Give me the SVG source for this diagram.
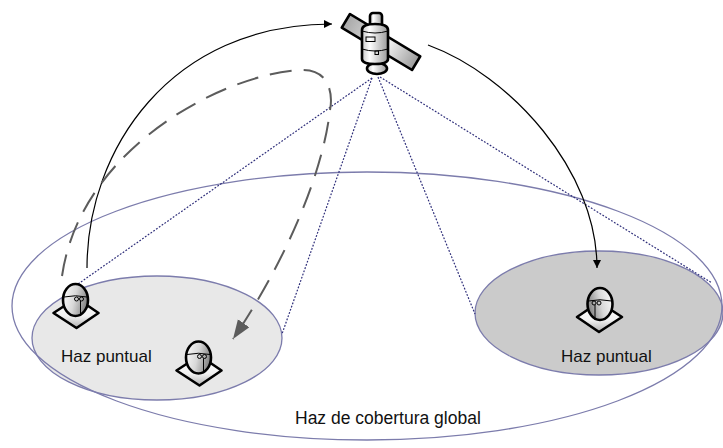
<svg xmlns="http://www.w3.org/2000/svg" width="723" height="448" viewBox="0 0 723 448">
  <style>
    .beam { stroke: #7c7cac; stroke-width: 1.3; }
    .ray { fill: none; stroke: #2e2e7a; stroke-width: 1.2; stroke-dasharray: 1.8 1.6; }
    .link { fill: none; stroke: #000; stroke-width: 1.2; }
    .handover { fill: none; stroke: #5c5c5c; stroke-width: 2; stroke-dasharray: 22 12; }
    .lbl { font-family: "Liberation Sans", Arial, sans-serif; fill: #111; }
    .outline { stroke: #000; stroke-width: 2.6; stroke-linejoin: round; }
    .thin { fill: none; stroke: #000; stroke-width: 1; }
  </style>
  <defs>
    <marker id="arrowBlack" markerUnits="userSpaceOnUse" markerWidth="10" markerHeight="10" refX="8" refY="4" orient="auto">
      <path d="M0,0 L8,4 L0,8 Z" fill="#000"/>
    </marker>
    <marker id="arrowGray" markerUnits="userSpaceOnUse" markerWidth="22" markerHeight="16" refX="19" refY="7" orient="auto">
      <path d="M0,0 L19,7 L0,14 Z" fill="#5c5c5c"/>
    </marker>
    <linearGradient id="headGrad" x1="0" y1="0" x2="1" y2="0.3">
      <stop offset="0" stop-color="#ffffff"/>
      <stop offset="0.55" stop-color="#d8d8d8"/>
      <stop offset="1" stop-color="#8a8a8a"/>
    </linearGradient>
    <linearGradient id="baseGrad" x1="0" y1="0" x2="0" y2="1">
      <stop offset="0" stop-color="#ffffff"/>
      <stop offset="0.6" stop-color="#f2f2f2"/>
      <stop offset="1" stop-color="#b0b0b0"/>
    </linearGradient>
    <linearGradient id="bodyGrad" x1="0" y1="0" x2="1" y2="0">
      <stop offset="0" stop-color="#c8c8c8"/>
      <stop offset="0.3" stop-color="#ffffff"/>
      <stop offset="1" stop-color="#9a9a9a"/>
    </linearGradient>
    <linearGradient id="panelGrad" x1="0" y1="0" x2="1" y2="0">
      <stop offset="0" stop-color="#a8a8a8"/>
      <stop offset="0.6" stop-color="#efefef"/>
      <stop offset="1" stop-color="#9c9c9c"/>
    </linearGradient>
    <!-- ground terminal: dish head over a square plinth, origin at head centre -->
    <g id="terminal">
      <polygon class="outline" points="-22,13 1,-2 23,13 1,28" fill="url(#baseGrad)"/>
      <ellipse class="outline" cx="0" cy="0" rx="12.5" ry="16" fill="url(#headGrad)"/>
      <path class="thin" d="M-11.5,-3 Q0,-5.5 11.5,-3"/>
      <circle class="thin" cx="1" cy="-1" r="2"/>
      <circle class="thin" cx="6" cy="-1" r="2"/>
      <path class="thin" d="M5,1 L5,15.5"/>
    </g>
  </defs>

  <!-- spot beam footprints -->
  <g id="spot-left">
    <ellipse class="beam" cx="157" cy="338" rx="125" ry="62" fill="#e8e8e8"/>
    <text class="lbl" x="61" y="361.5" font-size="17">Haz puntual</text>
  </g>
  <g id="spot-right">
    <ellipse class="beam" cx="599" cy="313" rx="124" ry="62" fill="#cbcbcb"/>
    <text class="lbl" x="561" y="361.5" font-size="17">Haz puntual</text>
  </g>

  <!-- global coverage footprint -->
  <g id="global-beam">
    <ellipse class="beam" cx="367" cy="306" rx="355" ry="134" fill="none"/>
    <text class="lbl" x="295" y="424" font-size="17.5">Haz de cobertura global</text>
  </g>

  <!-- beam edges and links -->
  <g id="connectors">
    <path class="ray" d="M372,78 L78,284"/>
    <path class="ray" d="M372,78 L282,334"/>
    <path class="ray" d="M378,77 L475,314"/>
    <path class="ray" d="M380,77 L712,283"/>
    <path class="link" d="M87,268 C87,150 170,24 332,24" marker-end="url(#arrowBlack)"/>
    <path class="link" d="M428,45 C510,75 597,170 597,268" marker-end="url(#arrowBlack)"/>
    <path class="handover" d="M62,276 C80,150 220,75 300,70 C330,68 333,95 330,110 C322,180 280,270 233,339" marker-end="url(#arrowGray)"/>
  </g>

  <!-- ground terminals -->
  <g id="terminal-1"><use href="#terminal" transform="translate(75.5,300)"/></g>
  <g id="terminal-2"><use href="#terminal" transform="translate(198.5,357.5)"/></g>
  <g id="terminal-3"><use href="#terminal" transform="translate(600,304) scale(-1,1)"/></g>

  <!-- satellite -->
  <g id="satellite">
    <g transform="translate(381,42) rotate(31)">
      <rect class="outline" x="-41" y="-8" width="82" height="16" fill="url(#panelGrad)"/>
    </g>
    <rect class="outline" x="370" y="13" width="12" height="15" rx="3" fill="url(#bodyGrad)"/>
    <ellipse class="outline" cx="377" cy="68.5" rx="10" ry="5.5" fill="url(#bodyGrad)"/>
    <path class="outline" d="M362,30 Q362,24 375,24 Q388,24 388,30 L388,59 Q388,64 375,64 Q362,64 362,59 Z" fill="url(#bodyGrad)"/>
    <path class="thin" d="M362,31 Q375,35 388,31"/>
    <path class="thin" d="M362,49 Q375,53 388,49"/>
    <rect class="thin" x="366" y="37" width="9" height="4.5"/>
    <rect class="thin" x="375" y="51" width="3.5" height="3.5"/>
  </g>
</svg>
